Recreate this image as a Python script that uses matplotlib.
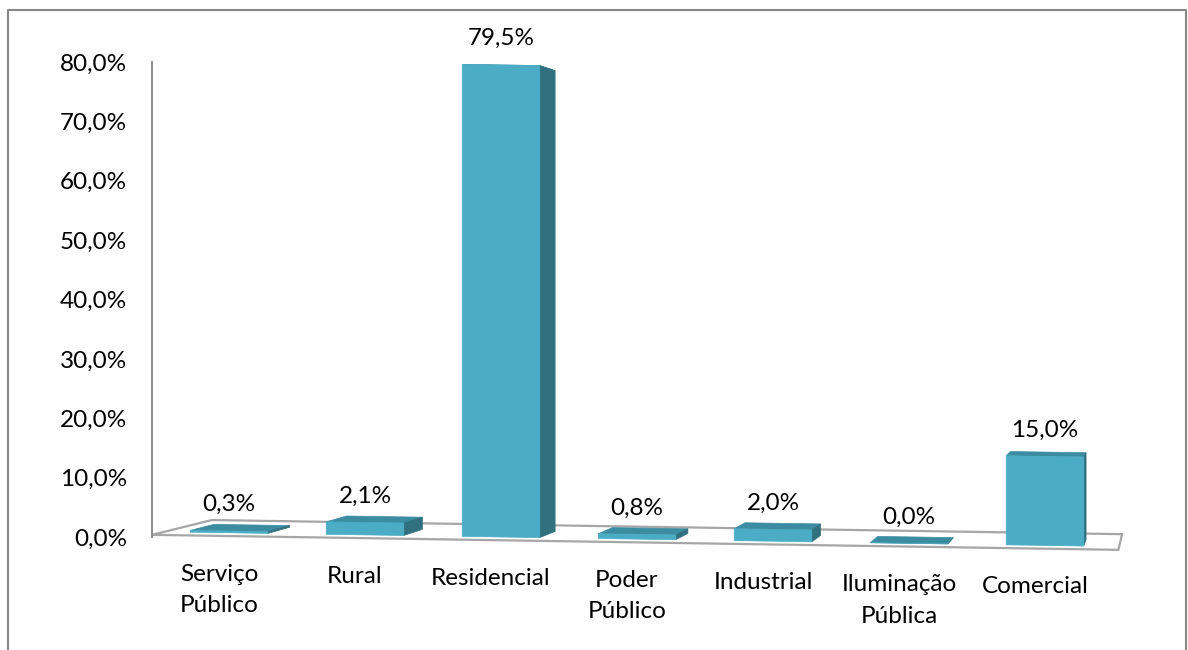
import numpy as np
import matplotlib.pyplot as plt
import matplotlib.transforms as mtransforms
from matplotlib.lines import Line2D
from matplotlib.patches import Polygon
from matplotlib.ticker import FuncFormatter

# consumption share by customer class (%)
categories = ['Serviço\nPúblico', 'Rural', 'Residencial', 'Poder\nPúblico',
              'Industrial', 'Iluminação\nPública', 'Comercial']
shares = [0.3, 2.1, 79.5, 0.8, 2.0, 0.0, 15.0]
y_ticks = [0, 10, 20, 30, 40, 50, 60, 70, 80]

FRONT = '#4BACC6'
SIDE = '#31717F'
TOP = '#3B8CA1'
GRID_GREY = '#8C8C8C'
FONT = ['Lato', 'DejaVu Sans']
FS = 17.5

W, H = 1188, 650


def pct(v):
    return f'{v:.1f}%'.replace('.', ',')


fig = plt.figure(figsize=(W / 100, H / 100), dpi=100)
ax = fig.add_axes([152 / W, 113 / H, 970.5 / W, 475 / H])
ax.set_xlim(-0.566, 6.57)
ax.set_ylim(0, 80)

# slight rotation of the front plane: baseline drops towards the right
k = -0.355
tilt = mtransforms.Affine2D(np.array([[1, 0, 0], [k, 1, -2 * k], [0, 0, 1]]))
front_tr = tilt + ax.transData

# vanishing point for the depth of the 3D boxes
vp = ax.transAxes.transform((1.06, 0.542))
pix = mtransforms.IdentityTransform()


def recede(pts, f):
    pts = np.asarray(pts, dtype=float)
    return pts + f * (vp - pts)


# floor
x_left, x_right = -0.566, 6.54
floor_front = front_tr.transform([(x_left, -0.55), (x_right, -0.55)])
floor_back = recede(floor_front, 0.058)
floor = np.vstack([floor_front, floor_back[::-1]])
ax.add_patch(Polygon(floor, closed=True, transform=pix, facecolor='white',
                     edgecolor='#A6A6A6', lw=1.6, zorder=1, clip_on=False))

# bars: top and side faces first, then the front face
width = 0.57
for i, v in enumerate(shares):
    x0, x1 = i - width / 2, i + width / 2
    fl, fr, tr, tl = front_tr.transform([(x0, 0), (x1, 0), (x1, v), (x0, v)])
    bl, br, btr, btl = recede([fl, fr, tr, tl], 0.024)
    ax.add_patch(Polygon([tl, tr, btr, btl], closed=True, transform=pix,
                         facecolor=TOP, edgecolor=TOP, lw=0.5, zorder=2,
                         clip_on=False))
    ax.add_patch(Polygon([tr, btr, br, fr], closed=True, transform=pix,
                         facecolor=SIDE, edgecolor=SIDE, lw=0.5, zorder=2,
                         clip_on=False))
    ax.bar(i, v, width=width, transform=front_tr, color=FRONT,
           edgecolor=FRONT, lw=0.5, zorder=3, clip_on=False)
    ax.annotate(pct(v), xy=(i, v), xycoords=front_tr,
                xytext=(0, 19), textcoords='offset points',
                ha='center', va='center', fontsize=FS, family=FONT)

# category labels along the front of the floor
label_tr = mtransforms.offset_copy(front_tr, fig=fig, x=-10, y=-31,
                                   units='dots')
for i, name in enumerate(categories):
    ax.text(i, 0, name, transform=label_tr, ha='center', va='top',
            fontsize=FS, family=FONT, linespacing=1.6)

ax.set_xlim(-0.566, 6.57)
ax.set_ylim(0, 80)
ax.set_xticks([])
ax.set_yticks(y_ticks)
ax.yaxis.set_major_formatter(FuncFormatter(lambda v, _: pct(v)))
ax.tick_params(axis='y', length=0, pad=18)
for lab in ax.get_yticklabels():
    lab.set_fontsize(FS)
    lab.set_family(FONT)
for side in ['top', 'right', 'bottom']:
    ax.spines[side].set_visible(False)
ax.spines['left'].set_color(GRID_GREY)
ax.spines['left'].set_linewidth(1.4)
ax.patch.set_visible(False)

# chart area border
fig.add_artist(Line2D([8 / W, 8 / W, 1186 / W, 1186 / W],
                      [0, 1 - 10 / H, 1 - 10 / H, 0],
                      transform=fig.transFigure, color='#878787', lw=1.5))

fig.savefig('out.png', dpi=100)
